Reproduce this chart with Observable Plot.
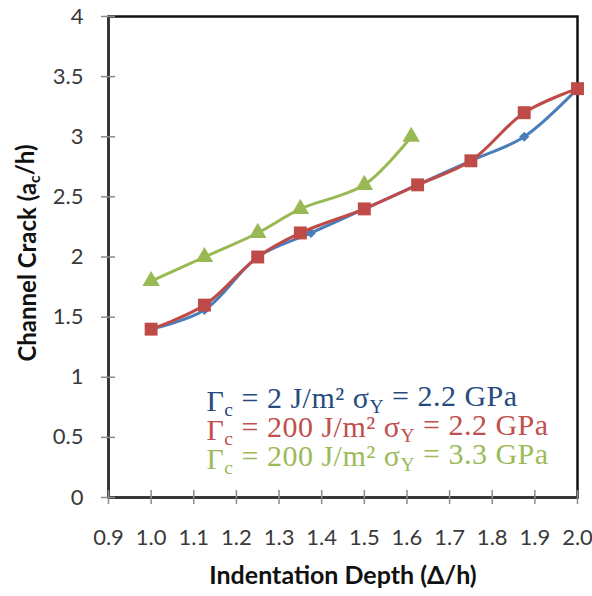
<!DOCTYPE html>
<html>
<head>
<meta charset="utf-8">
<script src="https://cdn.jsdelivr.net/npm/d3@7"></script>
<script src="https://cdn.jsdelivr.net/npm/@observablehq/plot@0.6"></script>
<style>
  html, body { margin: 0; padding: 0; background: #fff; }
  #chart svg { display: block; }
</style>
</head>
<body>
<div id="chart"></div>
<script>
// Channel crack length versus indentation depth, three material cases
const depthA = [1.0, 1.125, 1.25, 1.375, 1.5, 1.625, 1.75, 1.875, 2.0];
const crackA = [1.4, 1.56, 2.0, 2.2, 2.4, 2.6, 2.8, 3.0, 3.4];

const depthB = [1.0, 1.125, 1.25, 1.35, 1.5, 1.625, 1.75, 1.875, 2.0];
const crackB = [1.4, 1.6, 2.0, 2.2, 2.4, 2.6, 2.8, 3.2, 3.4];

const depthC = [1.0, 1.125, 1.25, 1.35, 1.5, 1.61];
const crackC = [1.8, 2.0, 2.2, 2.4, 2.6, 3.0];

const xTicks = [0.9, 1.0, 1.1, 1.2, 1.3, 1.4, 1.5, 1.6, 1.7, 1.8, 1.9, 2.0];
const yTicks = [0, 0.5, 1, 1.5, 2, 2.5, 3, 3.5, 4];

const xTitle = "Indentation Depth (Δ/h)";
const yTitle = "Channel Crack (a_c/h)";

// "_x" marks a one-character subscript
const legendLabels = [
  "Γ_c = 2 J/m² σ_Y = 2.2 GPa",
  "Γ_c = 200 J/m² σ_Y = 2.2 GPa",
  "Γ_c = 200 J/m² σ_Y = 3.3 GPa"
];

const lineColors = ["#4a7ebb", "#be4b48", "#98b954"];
const legendColors = ["#284b7f", "#c0504d", "#9bbb59"];

const rows = (xs, ys) => xs.map((x, i) => ({x, y: ys[i]}));
const seriesA = rows(depthA, crackA);
const seriesB = rows(depthB, crackB);
const seriesC = rows(depthC, crackC);

const xDomain = [0.9, 2.0];
const yDomain = [0, 4];

const legendMarks = legendLabels.map((label, i) =>
  Plot.text([label], {
    text: d => d,
    frameAnchor: "top-left",
    textAnchor: "start",
    lineAnchor: "middle",
    dx: 98,
    dy: 385 + i * 29,
    fill: legendColors[i],
    fontFamily: "Liberation Serif, Times New Roman, serif",
    fontSize: 30,
    className: "legend-line"
  })
);

const chart = Plot.plot({
  width: 592,
  height: 596,
  marginLeft: 108,
  marginRight: 15,
  marginTop: 16,
  marginBottom: 99,
  style: {fontFamily: "Lato, sans-serif", fontSize: "22px", color: "#3a3a3a", background: "#fff"},
  x: {domain: xDomain},
  y: {domain: yDomain},
  marks: [
    Plot.frame({stroke: "#111", strokeWidth: 2.5}),
    Plot.ruleX([xDomain[0]], {stroke: "#333", strokeWidth: 2.5}),
    Plot.ruleY([yDomain[0]], {stroke: "#333", strokeWidth: 2.5}),
    // tick marks crossing the axis lines
    Plot.ruleY(yTicks, {y: d => d, x1: xDomain[0], x2: xDomain[0], insetLeft: -7, insetRight: -7, stroke: "#8c8c8c", strokeWidth: 1.5}),
    Plot.ruleX(xTicks, {x: d => d, y1: yDomain[0], y2: yDomain[0], insetTop: -7, insetBottom: -7, stroke: "#8c8c8c", strokeWidth: 1.5}),
    Plot.axisY(yTicks, {tickSize: 0, tickPadding: 25, tickFormat: d => String(d), label: null}),
    Plot.axisX(xTicks, {tickSize: 0, tickPadding: 32, tickFormat: d3.format(".1f"), label: null}),
    // series A
    Plot.line(seriesA, {x: "x", y: "y", stroke: lineColors[0], strokeWidth: 3, curve: "catmull-rom"}),
    Plot.dot(seriesA, {x: "x", y: "y", symbol: "diamond2", r: 4.6, fill: lineColors[0]}),
    // series B
    Plot.line(seriesB, {x: "x", y: "y", stroke: lineColors[1], strokeWidth: 3, curve: "catmull-rom"}),
    Plot.dot(seriesB, {x: "x", y: "y", symbol: "square", r: 7.3, fill: lineColors[1]}),
    // series C
    Plot.line(seriesC, {x: "x", y: "y", stroke: lineColors[2], strokeWidth: 3, curve: "catmull-rom"}),
    Plot.dot(seriesC, {x: "x", y: "y", symbol: "triangle", r: 6.5, fill: lineColors[2]}),
    // axis titles
    Plot.text([xTitle], {text: d => d, frameAnchor: "bottom", textAnchor: "middle", dy: 86, fontWeight: "bold", fontSize: 25, fill: "#111"}),
    Plot.text([yTitle], {text: d => d, frameAnchor: "left", textAnchor: "middle", dx: -80, dy: -4, rotate: -90, fontWeight: "bold", fontSize: 24, fill: "#111"}),
    ...legendMarks
  ]
});

d3.select(chart).selectAll(".legend-line text").style("letter-spacing", "0.5px");

// Turn "_x" into a lowered, smaller tspan
d3.select(chart).selectAll("text").each(function () {
  const t = this.textContent;
  if (!t.includes("_")) return;
  const el = d3.select(this);
  el.text(null);
  const parts = t.split(/_(.)/);
  let shifted = false;
  parts.forEach((p, i) => {
    if (p === "") return;
    const sub = i % 2 === 1;
    const span = el.append("tspan").text(p);
    if (sub) {
      span.attr("dy", "0.25em").attr("font-size", "65%");
      shifted = true;
    } else if (shifted) {
      span.attr("dy", "-0.25em");
      shifted = false;
    }
  });
});

document.getElementById("chart").appendChild(chart);
</script>
</body>
</html>
